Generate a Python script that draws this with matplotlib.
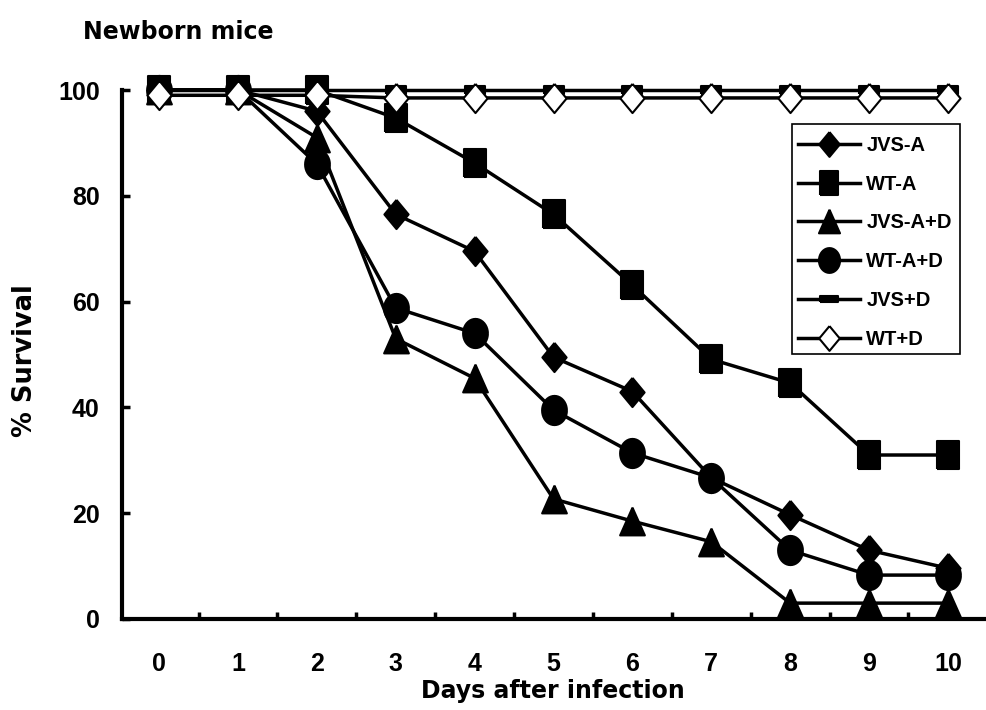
import numpy as np
import matplotlib
matplotlib.use("Agg")
import matplotlib.pyplot as plt
from matplotlib.patches import Rectangle

days = [0, 1, 2, 3, 4, 5, 6, 7, 8, 9, 10]
jvs_a = [100, 100, 96, 76.5, 69.5, 49.5, 43, 26.7, 19.7, 13, 9.6]
wt_a = [100, 100, 100, 94.7, 86.2, 76.5, 63.1, 49.1, 44.6, 31, 31]
jvs_ad = [100, 100, 91, 53, 45.5, 22.7, 18.5, 14.6, 3, 3, 3]
wt_ad = [100, 100, 86, 58.8, 54, 39.5, 31.4, 26.7, 13, 8.3, 8.3]
jvs_d = [100, 100, 100, 100, 100, 100, 100, 100, 100, 100, 100]
wt_d = [99, 99, 99, 98.5, 98.5, 98.5, 98.5, 98.5, 98.5, 98.5, 98.5]
labels = ["JVS-A", "WT-A", "JVS-A+D", "WT-A+D", "JVS+D", "WT+D"]
yticks = [0, 20, 40, 60, 80, 100]

W, H = 986, 710
fig = plt.figure(figsize=(W / 100, H / 100), dpi=100)
ax = fig.add_axes([122 / W, 1 - 619 / H, (985 - 122) / W, (619 - 90) / H])

# custom (slightly tall) markers
sq = [(-0.77, -1), (0.77, -1), (0.77, 1), (-0.77, 1), (-0.77, -1)]
dia = [(0, 1), (0.83, 0), (0, -1), (-0.83, 0), (0, 1)]
tri = [(0, 1), (0.89, -1), (-0.89, -1), (0, 1)]
t = np.linspace(0, 2 * np.pi, 41)
ell = list(zip(0.85 * np.cos(t), np.sin(t)))
dash = [(-1, -0.35), (1, -0.35), (1, 0.35), (-1, 0.35), (-1, -0.35)]

lw = 2.5
series = [
    (jvs_a, dia, 21, "black"),
    (wt_a, sq, 20.5, "black"),
    (jvs_ad, tri, 20, "black"),
    (wt_ad, ell, 21, "black"),
    (jvs_d, dash, 15, "black"),
    (wt_d, dia, 21, "white"),
]
for (vals, mk, ms, fc), lab in zip(series, labels):
    ax.plot(days, vals, color="black", lw=lw, marker=mk, markersize=ms,
            markerfacecolor=fc, markeredgecolor="black", markeredgewidth=1.5,
            clip_on=False, label=lab)

ax.set_xlim(-0.47, 10.47)
ax.set_ylim(0, 100)
for s in ["top", "right"]:
    ax.spines[s].set_visible(False)
for s in ["left", "bottom"]:
    ax.spines[s].set_linewidth(3)

ax.set_xticks(days)
ax.set_xticklabels([str(d) for d in days])
ax.set_xticks([d + 0.5 for d in days[:-1]], minor=True)
ax.tick_params(axis="x", which="major", length=0, pad=24)
ax.tick_params(axis="x", which="minor", direction="in", length=5, width=2.5)
ax.set_yticks(yticks)
ax.tick_params(axis="y", which="major", direction="in", length=6, width=2.5, pad=16)
for lbl in ax.get_xticklabels() + ax.get_yticklabels():
    lbl.set_fontfamily("Liberation Sans")
    lbl.set_fontweight("bold")
    lbl.set_fontsize(18)

fig.text(178 / W, 1 - 32 / H, "Newborn mice", ha="center", va="center",
         fontsize=17, fontweight="bold", family="DejaVu Sans")
fig.text(25 / W, 1 - 361 / H, "% Survival", ha="center", va="center",
         rotation=90, fontsize=18.5, fontweight="bold", family="DejaVu Sans")
fig.text(553 / W, 1 - 691 / H, "Days after infection", ha="center", va="center",
         fontsize=17, fontweight="bold", family="DejaVu Sans")

# legend
fig.patches.append(Rectangle((792 / W, 1 - 354 / H), (960 - 792) / W, (354 - 124) / H,
                             transform=fig.transFigure, fill=False, edgecolor="black",
                             lw=1.2, zorder=5))
leg = ax.legend(loc="upper left", bbox_to_anchor=(798 / W, 1 - 136 / H),
                bbox_transform=fig.transFigure, frameon=False, borderpad=0,
                borderaxespad=0, handlelength=3.1, handletextpad=0.3,
                labelspacing=0.98, markerscale=0.85,
                prop={"family": "Liberation Sans", "weight": "bold", "size": 14.5})

fig.savefig("out.png", dpi=100)
